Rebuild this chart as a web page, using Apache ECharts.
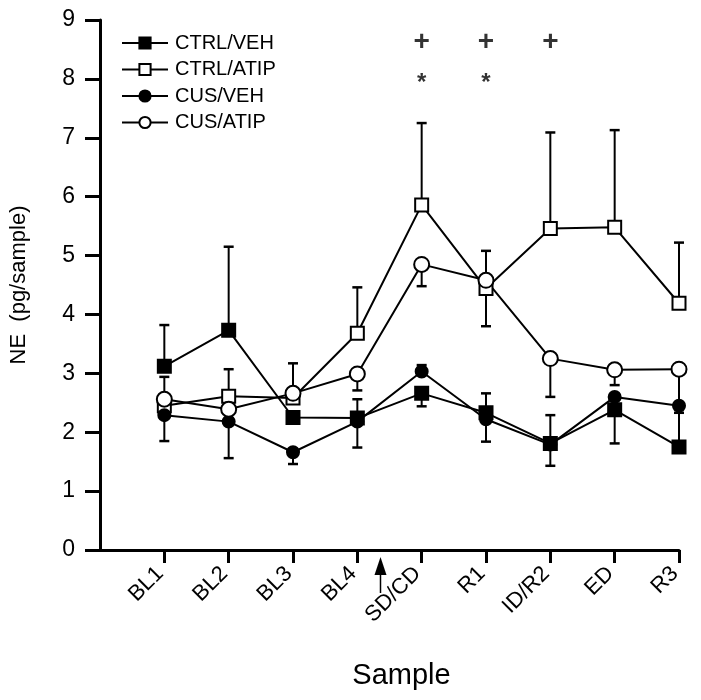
<!DOCTYPE html>
<html>
<head>
<meta charset="utf-8">
<script src="https://cdn.jsdelivr.net/npm/echarts@6/dist/echarts.min.js"></script>
<style>html,body{margin:0;padding:0;background:#fff;}#c{width:701px;height:700px;}</style>
</head>
<body>
<div id="c"></div>
<script>
// ---- data ----
var categories = ['', 'BL1', 'BL2', 'BL3', 'BL4', 'SD/CD', 'R1', 'ID/R2', 'ED', 'R3'];
var ctrlVeh     = [null, 3.12, 3.73, 2.25, 2.24, 2.66, 2.33, 1.81, 2.38, 1.75];
var ctrlVehErr  = [null, 3.82, 5.15, null, 2.56, 2.44, 2.66, 2.29, 1.81, 2.33];
var ctrlAtip    = [null, 2.45, 2.61, 2.58, 3.68, 5.86, 4.44, 5.46, 5.48, 4.19];
var ctrlAtipErr = [null, 2.94, 3.07, 3.17, 4.46, 7.25, 5.08, 7.09, 7.13, 5.22];
var cusVeh      = [null, 2.29, 2.18, 1.66, 2.18, 3.03, 2.22, 1.79, 2.60, 2.45];
var cusVehErr   = [null, 1.85, 1.56, 1.46, 1.74, 3.14, 1.84, 1.43, null, null];
var cusAtip     = [null, 2.56, 2.39, 2.66, 2.99, 4.85, 4.58, 3.25, 3.06, 3.07];
var cusAtipErr  = [null, null, null, null, 2.71, 4.48, 3.80, 2.60, 2.80, 2.50];
var plusAt = ['SD/CD', 'R1', 'ID/R2'];
var starAt = ['SD/CD', 'R1'];
var plusLevel = 8.62;
var starLevel = 7.93;
var yTicks = [0, 9, 1]; // min, max, interval
var arrowBetween = ['BL4', 'SD/CD'];
var arrowFrac = 0.36;

var FONT = '"Liberation Sans", Arial, Helvetica, sans-serif';

function errData(vals, errs) {
  var out = [];
  for (var i = 0; i < vals.length; i++) {
    if (vals[i] != null && errs[i] != null) out.push([i, vals[i], errs[i]]);
  }
  return out;
}
function errSeries(name, vals, errs) {
  return {
    name: name, type: 'custom', z: 1, silent: true,
    data: errData(vals, errs),
    renderItem: function (params, api) {
      var a = api.coord([api.value(0), api.value(1)]);
      var b = api.coord([api.value(0), api.value(2)]);
      var hw = 5;
      return {
        type: 'group',
        children: [
          { type: 'line', shape: { x1: a[0], y1: a[1], x2: b[0], y2: b[1] }, style: { stroke: '#000', lineWidth: 2 } },
          { type: 'line', shape: { x1: b[0] - hw, y1: b[1], x2: b[0] + hw, y2: b[1] }, style: { stroke: '#000', lineWidth: 2.5 } }
        ]
      };
    }
  };
}
function lineSeries(name, vals, symbol, filled, size) {
  return {
    name: name, type: 'line', z: 3, data: vals, connectNulls: false,
    symbol: symbol, symbolSize: size, showAllSymbol: true,
    lineStyle: { color: '#000', width: 2 },
    itemStyle: { color: filled ? '#000' : '#fff', borderColor: '#000', borderWidth: 2 },
    emphasis: { disabled: true }
  };
}
function annoSeries(cats, level, text, size) {
  return {
    type: 'scatter', symbolSize: 0, silent: true, z: 4,
    data: cats.map(function (c) { return [c, level]; }),
    label: { show: true, position: 'inside', formatter: text, color: '#000', fontSize: size, fontFamily: FONT, fontWeight: 'bold' }
  };
}

var chart = echarts.init(document.getElementById('c'), null, { renderer: 'canvas' });
var option = {
  backgroundColor: '#fff',
  animation: false,
  grid: { left: 99, right: 22, top: 20, bottom: 150, containLabel: false },
  legend: {
    data: ['CTRL/VEH', 'CTRL/ATIP', 'CUS/VEH', 'CUS/ATIP'],
    orient: 'vertical', left: 116, top: 28,
    itemWidth: 46, itemHeight: 14, itemGap: 6.5,
    textStyle: { color: '#000', fontSize: 20, fontFamily: FONT, padding: [0, 0, 0, 2] },
    selectedMode: false
  },
  xAxis: {
    type: 'category', data: categories, boundaryGap: false,
    name: 'Sample', nameLocation: 'middle', nameGap: 111,
    nameTextStyle: { color: '#000', fontSize: 29, fontFamily: FONT, padding: [0, 0, 0, 24] },
    axisLine: { lineStyle: { color: '#000', width: 3 } },
    axisTick: { length: 13, lineStyle: { color: '#000', width: 3 }, interval: function (i) { return i > 0; }, alignWithLabel: true },
    axisLabel: { rotate: 45, margin: 16, color: '#000', fontSize: 22, fontFamily: FONT, interval: 0, padding: [0, 6, 0, 0] },
    splitLine: { show: false }
  },
  yAxis: {
    type: 'value', min: yTicks[0], max: yTicks[1], interval: yTicks[2],
    name: 'NE  (pg/sample)', nameLocation: 'middle', nameGap: 70, nameRotate: 90,
    nameTextStyle: { color: '#000', fontSize: 22, fontFamily: FONT },
    axisLine: { show: true, lineStyle: { color: '#000', width: 3 } },
    axisTick: { show: true, length: 15, lineStyle: { color: '#000', width: 3 } },
    axisLabel: { margin: 25, color: '#000', fontSize: 23, fontFamily: FONT },
    splitLine: { show: false }
  },
  series: [
    errSeries('e1', ctrlVeh, ctrlVehErr),
    errSeries('e2', ctrlAtip, ctrlAtipErr),
    errSeries('e3', cusVeh, cusVehErr),
    errSeries('e4', cusAtip, cusAtipErr),
    lineSeries('CTRL/VEH', ctrlVeh, 'rect', true, 13),
    lineSeries('CTRL/ATIP', ctrlAtip, 'rect', false, 13),
    lineSeries('CUS/VEH', cusVeh, 'circle', true, 12),
    lineSeries('CUS/ATIP', cusAtip, 'circle', false, 15),
    annoSeries(plusAt, plusLevel, '+', 28),
    annoSeries(starAt, starLevel, '*', 24)
  ]
};
chart.setOption(option);

// arrow marker between two categories, positioned through the axis scale
var pA = chart.convertToPixel({ gridIndex: 0 }, [arrowBetween[0], 0]);
var pB = chart.convertToPixel({ gridIndex: 0 }, [arrowBetween[1], 0]);
var ax = pA[0] + (pB[0] - pA[0]) * arrowFrac;
var ay = pA[1];
chart.setOption({
  graphic: [
    { type: 'line', shape: { x1: ax, y1: ay + 20, x2: ax, y2: ay + 43 }, style: { stroke: '#000', lineWidth: 1.5 } },
    { type: 'polygon', shape: { points: [[ax, ay + 7], [ax - 6, ay + 25], [ax + 6, ay + 25]] }, style: { fill: '#000' } }
  ]
});
</script>
</body>
</html>
